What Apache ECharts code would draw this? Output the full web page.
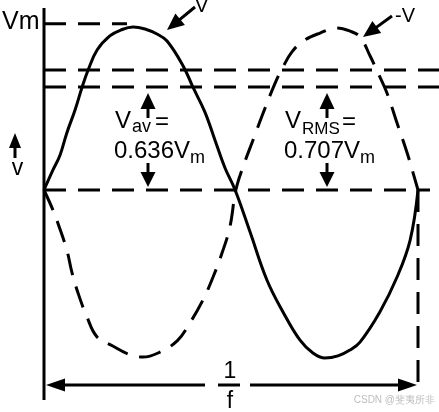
<!DOCTYPE html>
<html><head><meta charset="utf-8">
<script src="https://cdn.jsdelivr.net/npm/echarts@6/dist/echarts.min.js"></script>
<style>html,body{margin:0;padding:0;background:#fff}#c{width:439px;height:412px}</style>
</head><body><div id="c"></div>
<script>
// ---- data (time in periods, voltage in units of Vm) ----
const vT = [0, 0.024, 0.043, 0.061, 0.083, 0.102, 0.118, 0.142, 0.176, 0.206, 0.238, 0.270, 0.302, 0.329, 0.372, 0.398, 0.430, 0.457, 0.484, 0.511, 0.551, 0.596, 0.639, 0.684, 0.719, 0.751, 0.786, 0.818, 0.845, 0.898, 0.944, 0.979, 1.0];
const vY = [0, 0.123, 0.215, 0.350, 0.491, 0.632, 0.736, 0.859, 0.945, 0.982, 1.0, 0.988, 0.957, 0.914, 0.761, 0.632, 0.479, 0.307, 0.135, 0, -0.258, -0.552, -0.748, -0.920, -1.0, -1.031, -1.018, -0.982, -0.933, -0.748, -0.534, -0.307, 0];
const negT = [0, 0.024, 0.037, 0.061, 0.075, 0.091, 0.115, 0.142, 0.184, 0.225, 0.265, 0.305, 0.356, 0.390, 0.425, 0.452, 0.476, 0.497, 0.513, 0.532, 0.559, 0.586, 0.618, 0.639, 0.663, 0.693, 0.738, 0.783, 0.818, 0.845, 0.872, 0.893, 0.917, 0.944, 0.971, 0.987, 1.0];
const negY = [0, -0.123, -0.202, -0.368, -0.509, -0.632, -0.779, -0.902, -0.957, -1.006, -1.025, -1.0, -0.926, -0.816, -0.675, -0.534, -0.387, -0.227, 0, 0.141, 0.307, 0.472, 0.656, 0.755, 0.847, 0.914, 0.963, 0.994, 0.975, 0.939, 0.822, 0.718, 0.595, 0.411, 0.227, 0.104, 0];
const levelNames = ['Vm', 'upper', 'lower', 'zero'];
const levelValues = [1.02, 0.736, 0.632, 0];
const periodEnd = 1;

// ---- layout ----
const W = 439, H = 412, OX = 44, OY = 190, UX = 374, UY = 163;
const xMin = -OX / UX, xMax = (W - OX) / UX, yMin = -(H - OY) / UY, yMax = OY / UY;
const levelEnds = [0.222, xMax, xMax, 1.032];
const axisTop = 1.117, axisBottom = -1.288, periodBottom = -1.184;
const DASH = [22, 12];
const FONT = '"Liberation Sans", Arial, Helvetica, sans-serif';

const chart = echarts.init(document.getElementById('c'), null, {renderer: 'canvas'});

function lineSeries(name, data, dashed, smooth) {
  return {
    name, type: 'line', data, symbol: 'none', silent: true, smooth: smooth || false,
    clip: false, animation: false,
    lineStyle: {color: '#000', width: 3, type: dashed ? DASH : 'solid', cap: 'butt'}
  };
}

const series = [];
series.push(lineSeries('axis', [[0, axisTop], [0, axisBottom]], false));
levelValues.forEach((lv, i) => series.push(lineSeries(levelNames[i], [[0, lv], [levelEnds[i], lv]], true)));
series.push(lineSeries('period', [[periodEnd, 0], [periodEnd, periodBottom]], true));
series.push(lineSeries('v', vT.map((t, i) => [t, vY[i]]), false, 0.4));
series.push(lineSeries('-v', negT.map((t, i) => [t, negY[i]]), true, 0.4));

function arrow(x1, y1, x2, y2, hl, hw) {
  const dx = x2 - x1, dy = y2 - y1, L = Math.hypot(dx, dy), ux = dx / L, uy = dy / L;
  const bx = x2 - ux * hl, by = y2 - uy * hl, nx = -uy, ny = ux;
  return [
    {type: 'line', shape: {x1, y1, x2: bx + ux, y2: by + uy}, style: {stroke: '#000', lineWidth: 3}},
    {type: 'polygon', shape: {points: [[x2, y2], [bx + nx * hw / 2, by + ny * hw / 2], [bx - nx * hw / 2, by - ny * hw / 2]]}, style: {fill: '#000'}}
  ];
}
function txt(text, x, y, size, align, color) {
  return {type: 'text', x, y, style: {text, font: size + 'px ' + FONT, fill: color || '#000', align: align || 'left', verticalAlign: 'middle'}};
}

chart.setOption({
  backgroundColor: '#fff',
  animation: false,
  grid: {left: 0, right: 0, top: 0, bottom: 0},
  xAxis: {type: 'value', min: xMin, max: xMax, show: false},
  yAxis: {type: 'value', min: yMin, max: yMax, show: false},
  series
});

const g = [];
// labels
g.push(txt('Vm', 2, 22.5, 25));
g.push(txt('V', 195, 6, 20));
g.push(txt('-V', 395, 16.5, 20));
g.push(txt('v', 17.5, 169, 23, 'center'));
g.push(...arrow(15, 158, 15, 133, 15, 12));
g.push(...arrow(195, 7, 167, 30, 17, 15));
g.push(...arrow(392, 16, 363, 37, 17, 15));
// V_av block
g.push(txt('V', 115, 121.5, 24), txt('av', 132, 127, 18), txt('=', 155, 122.5, 24));
g.push(txt('0.636V', 114, 151.5, 24), txt('m', 190, 158.5, 18));
g.push(...arrow(148, 118, 148, 93, 16, 15), ...arrow(148, 163, 148, 187, 15, 15));
// V_RMS block
g.push(txt('V', 285, 121.5, 24), txt('RMS', 302, 129, 17), txt('=', 342, 122.5, 24));
g.push(txt('0.707V', 284, 151.5, 24), txt('m', 360, 158.5, 18));
g.push(...arrow(327, 118, 327, 93, 16, 15), ...arrow(327, 163, 327, 187, 15, 15));
// period arrow 1/f
g.push(...arrow(205, 385, 46, 385, 19, 13), ...arrow(250, 385, 417, 385, 19, 13));
g.push({type: 'line', shape: {x1: 218, y1: 385, x2: 240, y2: 385}, style: {stroke: '#000', lineWidth: 3}});
g.push(txt('1', 230, 371.5, 23, 'center'), txt('f', 230, 402, 23, 'center'));
g.push(txt('CSDN @斐夷所非', 435, 400, 10, 'right', '#bdbdbd'));
chart.setOption({graphic: g});
</script></body></html>
